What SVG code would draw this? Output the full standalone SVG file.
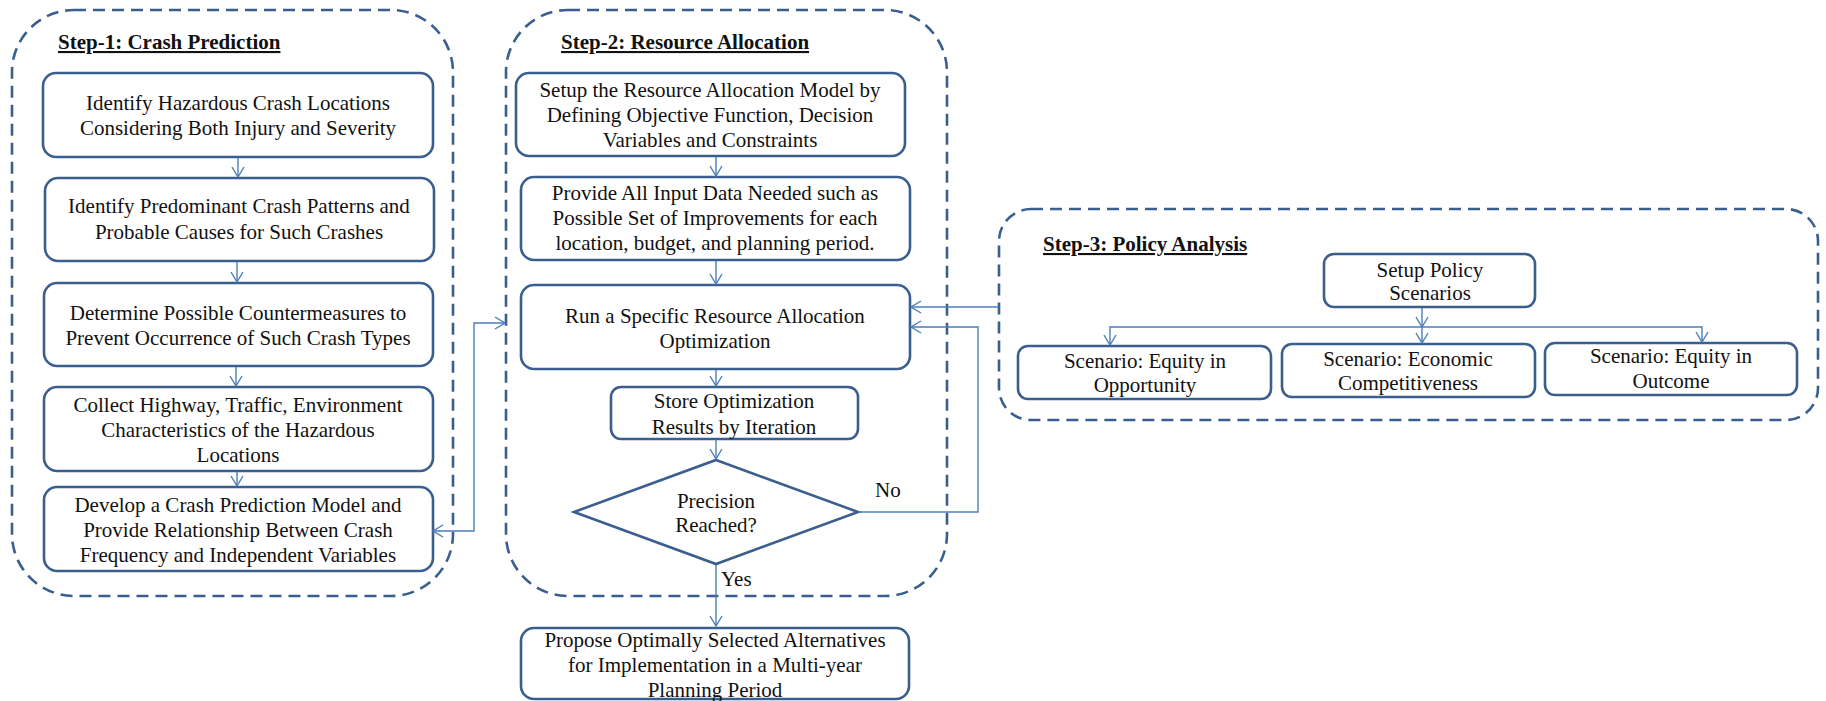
<svg xmlns="http://www.w3.org/2000/svg" width="1826" height="701" viewBox="0 0 1826 701">
<style>
.bg{fill:#ffffff}
.cont{fill:none;stroke:#3A5F8F;stroke-width:2.6;stroke-dasharray:12 7}
.box{fill:#ffffff;stroke:#3A5F8F;stroke-width:2.6}
.t{font-family:"Liberation Serif","Times New Roman",serif;font-size:21px;fill:#111;text-anchor:middle}
.title{font-family:"Liberation Serif","Times New Roman",serif;font-size:21px;font-weight:bold;fill:#111;text-decoration:underline}
.lbl{font-family:"Liberation Serif","Times New Roman",serif;font-size:21px;fill:#111}
.c{fill:none;stroke:#4A7EBB;stroke-width:1.4}
</style>
<defs>
<marker id="ah" viewBox="0 0 12 14" refX="11" refY="7" markerWidth="12" markerHeight="14" markerUnits="userSpaceOnUse" orient="auto-start-reverse">
<path d="M1,1 L11,7 L1,13" fill="none" stroke="#4A7EBB" stroke-width="1.4"/>
</marker>
</defs>
<rect class="bg" x="0" y="0" width="1826" height="701"/>

<g id="step1">
<rect class="cont" x="12" y="10" width="441" height="586" rx="62" ry="62"/>
<text class="title" x="58" y="49">Step-1: Crash Prediction</text>
</g>
<g id="step2">
<rect class="cont" x="506" y="10" width="441" height="586" rx="62" ry="62"/>
<text class="title" x="561" y="49">Step-2: Resource Allocation</text>
</g>
<g id="step3">
<rect class="cont" x="999" y="209" width="819" height="211" rx="32" ry="32"/>
<text class="title" x="1043" y="251">Step-3: Policy Analysis</text>
</g>

<g id="n1">
<rect class="box" x="43" y="73" width="390" height="84" rx="13"/>
<text class="t" x="238" y="110">Identify Hazardous Crash Locations</text>
<text class="t" x="238" y="135">Considering Both Injury and Severity</text>
</g>
<g id="n2">
<rect class="box" x="45" y="178" width="389" height="83" rx="13"/>
<text class="t" x="239" y="213">Identify Predominant Crash Patterns and</text>
<text class="t" x="239" y="239">Probable Causes for Such Crashes</text>
</g>
<g id="n3">
<rect class="box" x="44" y="283" width="389" height="83" rx="13"/>
<text class="t" x="238" y="320">Determine Possible Countermeasures to</text>
<text class="t" x="238" y="345">Prevent Occurrence of Such Crash Types</text>
</g>
<g id="n4">
<rect class="box" x="44" y="387" width="389" height="84" rx="13"/>
<text class="t" x="238" y="412">Collect Highway, Traffic, Environment</text>
<text class="t" x="238" y="437">Characteristics of the Hazardous</text>
<text class="t" x="238" y="462">Locations</text>
</g>
<g id="n5">
<rect class="box" x="44" y="487" width="389" height="84" rx="13"/>
<text class="t" x="238" y="512">Develop a Crash Prediction Model and</text>
<text class="t" x="238" y="537">Provide Relationship Between Crash</text>
<text class="t" x="238" y="562">Frequency and Independent Variables</text>
</g>

<g id="m1">
<rect class="box" x="516" y="73" width="389" height="83" rx="13"/>
<text class="t" x="710" y="97">Setup the Resource Allocation Model by</text>
<text class="t" x="710" y="122">Defining Objective Function, Decision</text>
<text class="t" x="710" y="147">Variables and Constraints</text>
</g>
<g id="m2">
<rect class="box" x="521" y="177" width="389" height="83" rx="13"/>
<text class="t" x="715" y="200">Provide All Input Data Needed such as</text>
<text class="t" x="715" y="225">Possible Set of Improvements for each</text>
<text class="t" x="715" y="250">location, budget, and planning period.</text>
</g>
<g id="m3">
<rect class="box" x="521" y="285" width="389" height="84" rx="13"/>
<text class="t" x="715" y="323">Run a Specific Resource Allocation</text>
<text class="t" x="715" y="348">Optimization</text>
</g>
<g id="m4">
<rect class="box" x="611" y="387" width="247" height="52" rx="10"/>
<text class="t" x="734" y="408">Store Optimization</text>
<text class="t" x="734" y="434">Results by Iteration</text>
</g>
<g id="m5">
<polygon class="box" points="716,460 858,512 716,564 574,512"/>
<text class="t" x="716" y="508">Precision</text>
<text class="t" x="716" y="532">Reached?</text>
</g>
<g id="m6">
<rect class="box" x="521" y="628" width="388" height="71" rx="13"/>
<text class="t" x="715" y="647">Propose Optimally Selected Alternatives</text>
<text class="t" x="715" y="672">for Implementation in a Multi-year</text>
<text class="t" x="715" y="697">Planning Period</text>
</g>

<g id="p1">
<rect class="box" x="1324" y="254" width="211" height="53" rx="10"/>
<text class="t" x="1430" y="277">Setup Policy</text>
<text class="t" x="1430" y="300">Scenarios</text>
</g>
<g id="p2">
<rect class="box" x="1018" y="346" width="253" height="53" rx="10"/>
<text class="t" x="1145" y="368">Scenario: Equity in</text>
<text class="t" x="1145" y="392">Opportunity</text>
</g>
<g id="p3">
<rect class="box" x="1282" y="344" width="253" height="53" rx="10"/>
<text class="t" x="1408" y="366">Scenario: Economic</text>
<text class="t" x="1408" y="390">Competitiveness</text>
</g>
<g id="p4">
<rect class="box" x="1545" y="343" width="252" height="52" rx="10"/>
<text class="t" x="1671" y="363">Scenario: Equity in</text>
<text class="t" x="1671" y="388">Outcome</text>
</g>

<g id="connectors">
<path class="c" d="M238,158 V177" marker-end="url(#ah)"/>
<path class="c" d="M237,262 V282" marker-end="url(#ah)"/>
<path class="c" d="M236,367 V386" marker-end="url(#ah)"/>
<path class="c" d="M237,472 V486" marker-end="url(#ah)"/>
<path class="c" d="M433,531 H474 V323 H505" marker-start="url(#ah)" marker-end="url(#ah)"/>
<path class="c" d="M716,157 V176" marker-end="url(#ah)"/>
<path class="c" d="M716,261 V284" marker-end="url(#ah)"/>
<path class="c" d="M716,370 V386" marker-end="url(#ah)"/>
<path class="c" d="M716,440 V459" marker-end="url(#ah)"/>
<path class="c" d="M716,565 V626" marker-end="url(#ah)"/>
<path class="c" d="M859,512 H978 V327 H911" marker-end="url(#ah)"/>
<path class="c" d="M999,307 H911" marker-end="url(#ah)"/>
<path class="c" d="M1422,308 V327" marker-end="url(#ah)"/>
<path class="c" d="M1422,327 H1110 V345" marker-end="url(#ah)"/>
<path class="c" d="M1422,327 V343" marker-end="url(#ah)"/>
<path class="c" d="M1422,327 H1702 V342" marker-end="url(#ah)"/>
<text class="lbl" x="875" y="497">No</text>
<text class="lbl" x="721" y="586">Yes</text>
</g>
</svg>
